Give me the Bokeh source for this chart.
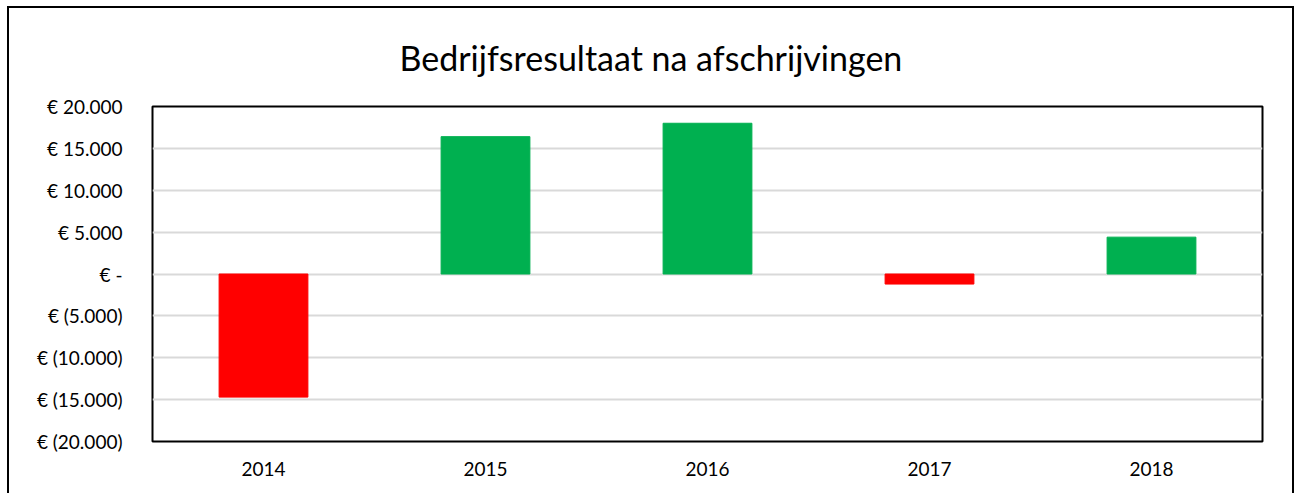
from bokeh.plotting import figure
from bokeh.models import FixedTicker, ColumnDataSource
from bokeh.embed import file_html
from bokeh.resources import INLINE

years = ["2014", "2015", "2016", "2017", "2018"]
values = [-14700, 16400, 18000, -1200, 4400]
colors = ["#FF0000" if v < 0 else "#00B050" for v in values]
tick_values = [-20000, -15000, -10000, -5000, 0, 5000, 10000, 15000, 20000]
tick_labels = ["€ (20.000)", "€ (15.000)", "€ (10.000)", "€ (5.000)", "€ -",
               "€ 5.000", "€ 10.000", "€ 15.000", "€ 20.000"]

src = ColumnDataSource(dict(x=years, top=values, color=colors))

W, H = 1287, 487
FL, FR, FT, FB = 143, 34, 98, 54

p = figure(x_range=years, y_range=(-20000, 20000), width=W, height=H,
           output_backend="svg", toolbar_location=None,
           title="Bedrijfsresultaat na afschrijvingen",
           min_border_left=FL, min_border_right=FR, min_border_top=FT, min_border_bottom=FB)
p.vbar(x="x", top="top", bottom=0, width=0.4, color="color", source=src)

p.styles = {"margin-left": "7px", "margin-top": "6px",
            "border-left": "2px solid black", "border-top": "2px solid black",
            "border-right": "2px solid black"}

p.title.align = "left"
p.title.offset = 247
p.title.vertical_align = "top"
p.title.text_font = "Lato"
p.title.text_font_style = "normal"
p.title.text_font_size = "34px"
p.title.text_color = "black"
p.title.standoff = 54

p.outline_line_color = "black"
p.outline_line_width = 2

p.yaxis.ticker = FixedTicker(ticks=tick_values)
p.yaxis.major_label_overrides = {v: l for v, l in zip(tick_values, tick_labels)}
for ax in (p.xaxis[0], p.yaxis[0]):
    ax.axis_line_color = None
    ax.major_tick_line_color = None
    ax.minor_tick_line_color = None
    ax.major_label_text_font = "Lato"
    ax.major_label_text_font_size = "19px"
    ax.major_label_text_color = "#000000"
p.yaxis.major_label_standoff = 24
p.xaxis.major_label_standoff = 14

p.xgrid.grid_line_color = None
p.ygrid.grid_line_color = "#d9d9d9"
p.ygrid.grid_line_width = 2
p.ygrid.ticker = FixedTicker(ticks=tick_values[1:-1])

open("out.html", "w").write(file_html(p, INLINE))
